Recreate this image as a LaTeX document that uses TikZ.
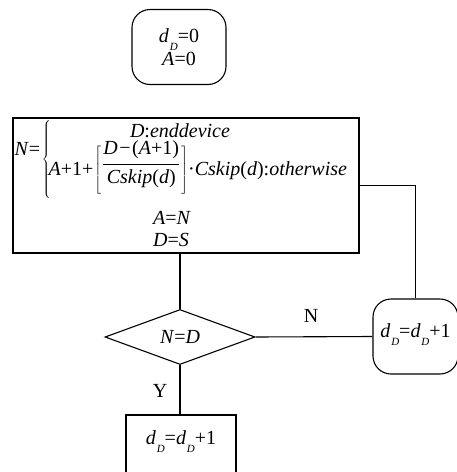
\documentclass[tikz,border=0pt]{standalone}
\usepackage{fontspec}
\setmainfont{Liberation Serif}
\usetikzlibrary{shapes.geometric}
\newcommand{\ti}[1]{\textit{#1}}
\newcommand{\dD}{\textit{d}\hspace{0.8pt}\raisebox{-8pt}[0pt][0pt]{\fontsize{11}{11}\selectfont\textit{D}}}
\newcommand{\bstrut}{\vrule height 31pt depth 21pt width 0pt}
\begin{document}
\begin{tikzpicture}[x=1pt,y=-1pt, line width=1.1pt,
  txt/.style={font=\fontsize{20}{20}\selectfont, inner sep=0pt},
  rbox/.style={txt, draw, rounded corners=18pt, align=center},
  pbox/.style={txt, draw, rectangle},
  decision/.style={txt, draw, diamond, aspect=2.73, minimum width=150pt, minimum height=55pt}]
\useasboundingbox (0,0) rectangle (457,472);
\clip (0,0) rectangle (457,472);
\node[rbox, minimum width=94pt, minimum height=75pt] (start) at (179,47) {\dD=0\\[3pt]\ti{A}=0};
\node[pbox, minimum width=346pt, minimum height=135pt] (calc) at (186,185.5) {};
\node[txt, anchor=base west] (neq) at (14,155) {\ti{N}=};
\node[txt] (brace) at (47,160) {$\left\{\vrule height 44.5pt depth 34.5pt width 0pt\right.$};
\node[txt, anchor=base] (case1) at (180,137) {\ti{D}:\ti{enddevice}};
\node[txt, anchor=base west] (case2) at (48,175) {\ti{A}+1+\hspace{1pt}$\left[\bstrut\right.$\raisebox{6pt}{$\displaystyle\frac{\hbox{\ti{D}\hspace{1.5pt}−\hspace{1.5pt}(\ti{A}+1)}}{\hbox{\ti{Cskip}(\ti{d})}}$}$\left.\bstrut\right]$·\ti{Cskip}(\ti{d}):\ti{otherwise}};
\node[txt, anchor=base] (aeqn) at (172,224) {\ti{A}=\ti{N}};
\node[txt, anchor=base] (deqs) at (171,246) {\ti{D}=\ti{S}};
\node[decision] (test) at (180,337) {\ti{N}=\ti{D}};
\node[rbox, minimum width=85pt, minimum height=75pt, text depth=12pt] (incr) at (415.5,336.5) {\dD=\dD+1};
\node[pbox, minimum width=110pt, minimum height=66pt, text depth=20pt] (done) at (181,448) {\dD=\dD+1};
\node[txt] (nlab) at (311,316) {N};
\node[txt] (ylab) at (160,390.5) {Y};
\draw (test.north) -- (test.north |- calc.south);
\draw (test.east) -- (incr.west);
\draw (test.south) -- (test.south |- done.north);
\draw (incr.north) |- (calc.east);
\end{tikzpicture}
\end{document}
